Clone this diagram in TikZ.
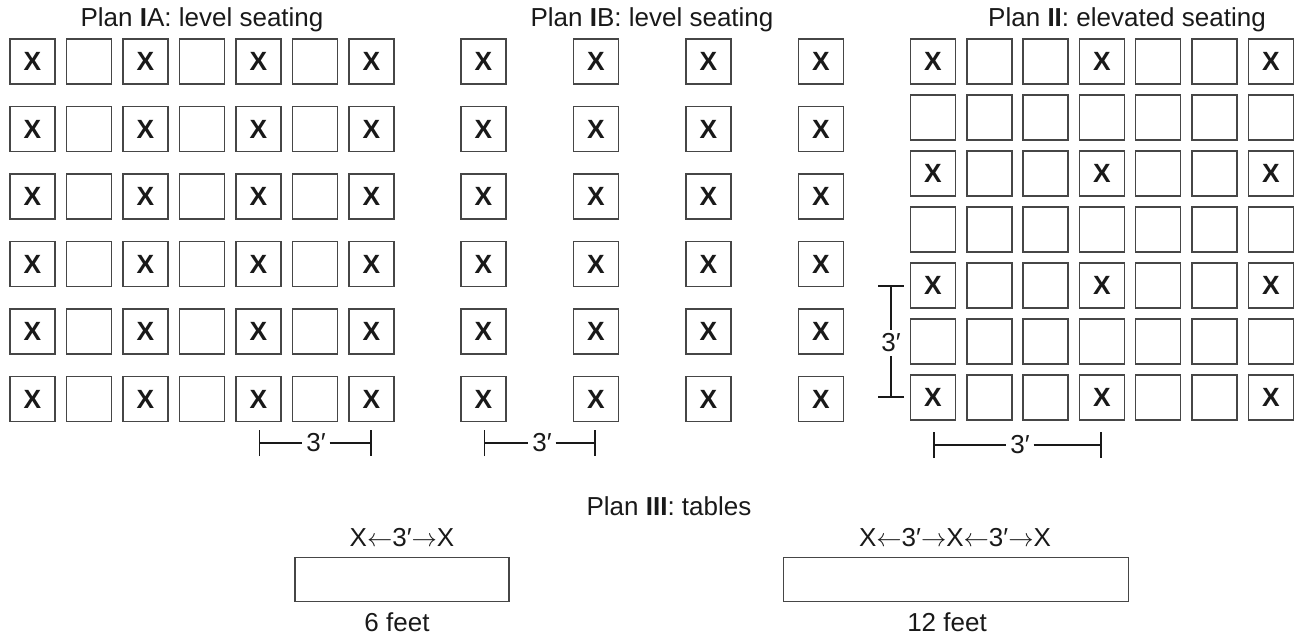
\documentclass[tikz,border=0pt]{standalone}
\usepackage{fontspec}
\setmainfont{Liberation Sans}
\usetikzlibrary{arrows.meta,positioning}
\definecolor{SeatGray}{RGB}{70,70,70}
\definecolor{InkBlack}{RGB}{25,25,25}
\tikzset{
  seat/.style={draw=SeatGray,line width=0.8pt,minimum size=0.9cm,inner sep=0pt,
    font=\fontsize{15}{15}\selectfont\bfseries,text=InkBlack},
  plantitle/.style={anchor=base,font=\fontsize{14.8}{15}\selectfont,text=InkBlack},
  dimtext/.style={inner sep=2pt,font=\fontsize{14.8}{15}\selectfont,text=InkBlack},
  dimline/.style={line width=1.1pt,InkBlack},
  tablebox/.style={draw=SeatGray,line width=0.8pt,inner sep=0pt,minimum height=0.89cm},
  tablelabel/.style={anchor=base,font=\fontsize{14.8}{15}\selectfont,text=InkBlack}
}
\newcommand{\lspan}{$\leftarrow$}
\newcommand{\rspan}{$\rightarrow$}

\begin{document}
\begin{tikzpicture}[x=0.02cm,y=-0.02cm]
\useasboundingbox (0,0) rectangle (1300,638);

% titles
\node[plantitle] (titleIA) at (202,27) {Plan \textbf{I}A: level seating};
\node[plantitle] (titleIB) at (652,27) {Plan \textbf{I}B: level seating};
\node[plantitle] (titleII) at (1127,27) {Plan \textbf{II}: elevated seating};

% Plan IA: 7 columns, 6 rows
\foreach \i in {0,...,6}{
  \foreach \j in {0,...,5}{
    \pgfmathparse{int(mod(\i,2))}
    \ifnum\pgfmathresult=0
      \node[seat] (seatIA-\i-\j) at (32.5+56.5*\i,61.5+67.5*\j) {X};
    \else
      \node[seat] (seatIA-\i-\j) at (32.5+56.5*\i,61.5+67.5*\j) {};
    \fi
  }
}

% Plan IB: 4 columns, 6 rows
\foreach \i in {0,...,3}{
  \foreach \j in {0,...,5}{
    \node[seat] (seatIB-\i-\j) at (483.5+112.5*\i,61.5+67.5*\j) {X};
  }
}

% Plan II: 7 columns, 7 rows
\foreach \i in {0,...,6}{
  \foreach \j in {0,...,6}{
    \pgfmathparse{int(mod(\i,3)+mod(\j,2))}
    \ifnum\pgfmathresult=0
      \node[seat] (seatII-\i-\j) at (933+56.3*\i,61.5+56*\j) {X};
    \else
      \node[seat] (seatII-\i-\j) at (933+56.3*\i,61.5+56*\j) {};
    \fi
  }
}

% dimensions
\node[dimtext] (dimIA) at (316,443) {3′};
\coordinate (dimIAl) at (258.5,443);
\coordinate (dimIAr) at (371.5,443);
\draw[dimline,{Bar[width=0.52cm]}-] (dimIAl) -- (dimIA.west);
\draw[dimline,-{Bar[width=0.52cm]}] (dimIA.east) -- (dimIAr);

\node[dimtext] (dimIB) at (542,443) {3′};
\coordinate (dimIBl) at (483.5,443);
\coordinate (dimIBr) at (596,443);
\draw[dimline,{Bar[width=0.52cm]}-] (dimIBl) -- (dimIB.west);
\draw[dimline,-{Bar[width=0.52cm]}] (dimIB.east) -- (dimIBr);

\node[dimtext] (dimIIh) at (1020,445) {3′};
\coordinate (dimIIhl) at (933,445);
\coordinate (dimIIhr) at (1102,445);
\draw[dimline,{Bar[width=0.52cm]}-] (dimIIhl) -- (dimIIh.west);
\draw[dimline,-{Bar[width=0.52cm]}] (dimIIh.east) -- (dimIIhr);

\node[dimtext] (dimIIv) at (891,343) {3′};
\coordinate (dimIIvt) at (891,285.5);
\coordinate (dimIIvb) at (891,397.5);
\draw[dimline,{Bar[width=0.52cm]}-] (dimIIvt) -- (dimIIv.north);
\draw[dimline,-{Bar[width=0.52cm]}] (dimIIv.south) -- (dimIIvb);

% Plan III: tables
\node[plantitle] (titleIII) at (669,515) {Plan \textbf{III}: tables};

\node[tablebox,minimum width=4.28cm] (tableSix) at (402,579.5) {};
\node[tablelabel] (spanSix) at (402,546) {X\lspan3′\rspan X};
\node[tablelabel] (feetSix) at (397,631.5) {6 feet};

\node[tablebox,minimum width=6.9cm] (tableTwelve) at (955.8,579.5) {};
\node[tablelabel] (spanTwelve) at (955,546) {X\lspan3′\rspan X\lspan3′\rspan X};
\node[tablelabel] (feetTwelve) at (947,631.5) {12 feet};

\end{tikzpicture}
\end{document}
